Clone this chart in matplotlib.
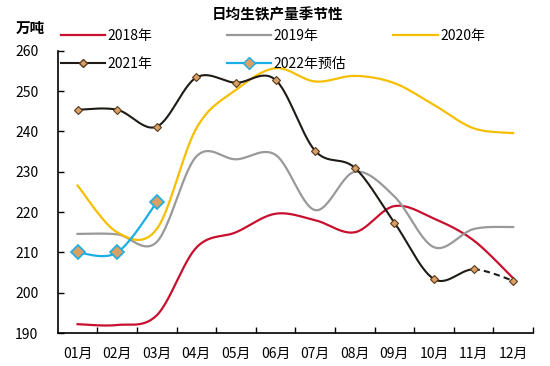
import numpy as np
import matplotlib
matplotlib.use('Agg')
import matplotlib.pyplot as plt

plt.rcParams['font.family'] = ['Noto Sans CJK SC', 'DejaVu Sans']

months = ['01月', '02月', '03月', '04月', '05月', '06月', '07月', '08月', '09月', '10月', '11月', '12月']
y2018 = [192.2, 192.0, 194.4, 211.2, 215.0, 219.6, 218.0, 215.0, 221.5, 218.4, 213.0, 203.6]
y2019 = [214.6, 214.5, 212.6, 233.8, 233.1, 234.2, 220.5, 230.0, 223.9, 211.3, 215.8, 216.3]
y2020 = [226.6, 215.0, 215.8, 240.8, 250.3, 255.7, 252.4, 253.8, 252.0, 246.6, 240.8, 239.6]
y2021 = [245.4, 245.4, 241.2, 253.4, 252.1, 252.8, 235.2, 231.0, 217.4, 203.4, 205.8, 203.0]
y2022 = [210.0, 210.0, 222.4]


def smooth(xs, ys, n=30):
    # Excel-like smoothed line: cubic Bezier with Catmull-Rom control points
    xs = np.asarray(xs, float)
    ys = np.asarray(ys, float)
    px, py = [], []
    for i in range(len(xs) - 1):
        x0, y0 = (xs[i - 1], ys[i - 1]) if i > 0 else (xs[i], ys[i])
        x3, y3 = (xs[i + 2], ys[i + 2]) if i + 2 < len(xs) else (xs[i + 1], ys[i + 1])
        c1 = (xs[i] + (xs[i + 1] - x0) / 6, ys[i] + (ys[i + 1] - y0) / 6)
        c2 = (xs[i + 1] - (x3 - xs[i]) / 6, ys[i + 1] - (y3 - ys[i]) / 6)
        t = np.linspace(0, 1, n)
        bx = (1 - t) ** 3 * xs[i] + 3 * (1 - t) ** 2 * t * c1[0] + 3 * (1 - t) * t ** 2 * c2[0] + t ** 3 * xs[i + 1]
        by = (1 - t) ** 3 * ys[i] + 3 * (1 - t) ** 2 * t * c1[1] + 3 * (1 - t) * t ** 2 * c2[1] + t ** 3 * ys[i + 1]
        px.extend(bx)
        py.extend(by)
    return np.array(px), np.array(py)


fig = plt.figure(figsize=(5.5, 3.66), dpi=100)
ax = fig.add_axes([0.105, 0.090, 0.864, 0.771])

x = np.arange(12)

red = '#C8102E'
gray = '#999999'
yellow = '#F5BF00'
black = '#1E1A16'
blue = '#1AAEE6'
tan = '#D9A066'

sx, sy = smooth(x, y2018)
ax.plot(sx, sy, color=red, lw=1.6)
sx, sy = smooth(x, y2019)
ax.plot(sx, sy, color=gray, lw=1.6)
sx, sy = smooth(x, y2020)
ax.plot(sx, sy, color=yellow, lw=1.6)

# 2021: solid up to Nov, dashed Nov -> Dec
sx, sy = smooth(x, y2021)
n = 30
ax.plot(sx[:10 * n], sy[:10 * n], color=black, lw=1.5)
ax.plot(sx[10 * n:], sy[10 * n:], color=black, lw=1.5, ls=(0, (3, 2)))
ax.plot(x, y2021, ls='none', marker='D', ms=4.5, mfc=tan, mec='#5a3a1a', mew=0.8)

x22 = np.arange(len(y2022))
sx, sy = smooth(x22, y2022)
ax.plot(sx, sy, color=blue, lw=1.6)
ax.plot(x22, y2022, ls='none', marker='D', ms=7, mfc=tan, mec=blue, mew=1.2)

# legend handles, one legend per column to match the spacing
h18, = ax.plot([], [], color=red, lw=1.6, label='2018年')
h19, = ax.plot([], [], color=gray, lw=1.6, label='2019年')
h20, = ax.plot([], [], color=yellow, lw=1.6, label='2020年')
h21, = ax.plot([], [], color=black, lw=1.5, marker='D', ms=4.5, mfc=tan, mec='#5a3a1a', label='2021年')
h22, = ax.plot([], [], color=blue, lw=1.6, marker='D', ms=6, mfc=tan, mec=blue, label='2022年预估')
legkw = dict(frameon=False, loc='upper left', fontsize=10, handlelength=3.2,
             handletextpad=0.2, labelspacing=0.95, borderaxespad=0)
for hs, lx in [([h18, h21], 0.10), ([h19, h22], 0.402), ([h20], 0.705)]:
    fig.legend(handles=hs, bbox_to_anchor=(lx, 0.935), **legkw)

ax.set_xlim(-0.5, 11.5)
ax.set_ylim(190, 260)
ax.set_yticks(np.arange(190, 261, 10))
ax.set_xticks(x)
ax.set_xticklabels(months)
ax.set_xticks(np.arange(0.5, 12, 1), minor=True)
ax.tick_params(axis='x', which='major', length=0, labelsize=10, pad=10)
ax.tick_params(axis='x', which='minor', length=4, direction='in', width=1)
ax.tick_params(axis='y', length=4, direction='in', width=1, labelsize=10, pad=14)
for s in ['top', 'right']:
    ax.spines[s].set_visible(False)
ax.spines['left'].set_linewidth(1.2)
ax.spines['bottom'].set_linewidth(1.2)

fig.text(0.505, 0.962, '日均生铁产量季节性', ha='center', va='center', fontsize=10.5, fontweight='bold')
fig.text(0.055, 0.925, '万吨', ha='center', va='center', fontsize=10.5, fontweight='bold')

fig.savefig('out.png', dpi=100)
